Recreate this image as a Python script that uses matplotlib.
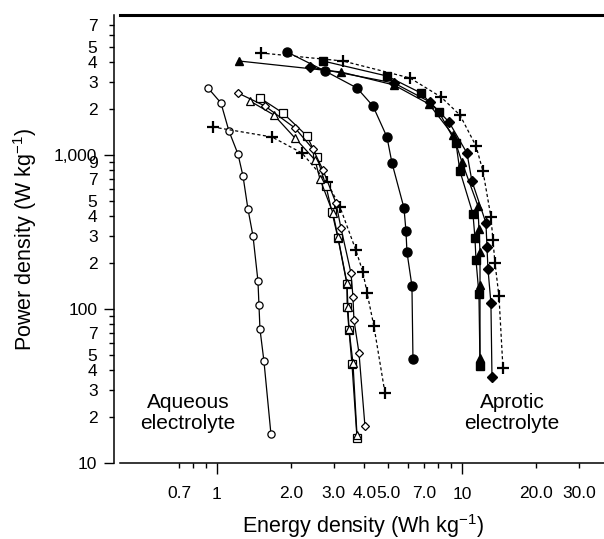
import matplotlib
matplotlib.use('Agg')
import matplotlib.pyplot as plt
from matplotlib.ticker import FixedLocator, FixedFormatter

plt.rcParams['font.family'] = ['Liberation Sans', 'DejaVu Sans']
plt.rcParams['mathtext.default'] = 'regular'

# ---------------- data (Energy density Wh/kg, Power density W/kg) ----------------
aq_circle_x = [0.919, 1.038, 1.119, 1.218, 1.277, 1.338, 1.403, 1.470, 1.484, 1.498, 1.555, 1.661]
aq_circle_y = [2725, 2178, 1432, 1015, 731, 446, 298, 152, 106, 74, 45.9, 15.4]

aq_plus_x = [0.963, 1.677, 2.223, 2.812, 3.177, 3.69, 3.94, 4.10, 4.37, 4.85]
aq_plus_y = [1520, 1309, 1030, 668, 460, 241, 174, 127, 77.6, 28.5]

open_diamond_x = [1.218, 1.570, 2.082, 2.465, 2.708, 3.060, 3.207, 3.524, 3.590, 3.623, 3.799, 4.018]
open_diamond_y = [2527, 2080, 1497, 1094, 799, 488, 336, 171, 120, 84.9, 51.8, 17.4]

open_triangle_x = [1.364, 1.708, 2.082, 2.512, 2.633, 2.975, 3.118, 3.393, 3.425, 3.458, 3.590, 3.728]
open_triangle_y = [2242, 1818, 1289, 929, 698, 420, 293, 147.5, 103, 74.1, 44.6, 15.3]

open_square_x = [1.498, 1.859, 2.330, 2.559, 2.786, 2.946, 3.118, 3.393, 3.40, 3.458, 3.556, 3.728]
open_square_y = [2345, 1874, 1329, 970, 629, 427, 289, 145, 103, 73.1, 44.0, 14.6]

mid_circle_x = [1.931, 2.759, 3.728, 4.333, 4.941, 5.180, 5.799, 5.908, 5.964, 6.25, 6.31]
mid_circle_y = [4667, 3512, 2723, 2080, 1309, 888, 453, 321, 234, 141, 47.3]

ap_plus_x = [1.512, 3.268, 6.135, 8.212, 9.81, 11.41, 12.18, 13.13, 13.38, 13.64, 14.16, 14.70]
ap_plus_y = [4596, 4077, 3162, 2380, 1818, 1144, 787, 396, 281, 199, 121, 41.4]

ap_square_x = [2.708, 4.941, 6.80, 8.056, 9.45, 9.81, 11.09, 11.30, 11.41, 11.73, 11.85]
ap_square_y = [4077, 3258, 2527, 1902, 1196, 787, 414, 289, 208, 125, 42.6]

ap_triangle_x = [1.230, 3.207, 5.278, 7.33, 9.19, 10.0, 11.62, 11.73, 11.85, 11.85, 11.85]
ap_triangle_y = [4077, 3459, 2848, 2143, 1349, 901, 467, 331, 234, 143, 48]

ap_diamond_x = [2.397, 5.278, 7.40, 8.85, 10.48, 10.98, 12.53, 12.65, 12.77, 13.13, 13.26]
ap_diamond_y = [3728, 2935, 2210, 1638, 1030, 678, 362, 253, 182, 109, 36.2]

# tick definitions
x_major = [1, 10]
x_major_labels = ['1', '10']
x_minor = [0.7, 0.8, 0.9, 2, 3, 4, 5, 6, 7, 8, 9, 20, 30]
x_minor_labels = ['0.7', '', '', '2.0', '3.0', '4.0', '5.0', '', '7.0', '', '', '20.0', '30.0']

y_major = [10, 100, 1000]
y_major_labels = ['10', '100', '1,000']
y_minor = [20, 30, 40, 50, 60, 70, 80, 90,
           200, 300, 400, 500, 600, 700, 800, 900,
           2000, 3000, 4000, 5000, 6000, 7000]
y_minor_labels = ['2', '3', '4', '5', '', '7', '', '',
                  '2', '3', '4', '5', '', '7', '', '9',
                  '2', '3', '4', '5', '', '7']

# ---------------- figure ----------------
W, H = 604, 539
fig = plt.figure(figsize=(W / 100, H / 100), dpi=100)
ax = fig.add_axes([120 / W, (H - 463) / H, 484 / W, 448 / H])
ax.set_xscale('log')
ax.set_yscale('log')
ax.set_xlim(0.402, 38)
ax.set_ylim(10, 8110)

lw = 0.9
dash = (0, (2.5, 2.0))
k = 'black'

ax.plot(aq_circle_x, aq_circle_y, color=k, lw=lw, marker='o', ms=5.2, mfc='white', mec=k, mew=0.9, zorder=3)
ax.plot(aq_plus_x, aq_plus_y, color=k, lw=lw, ls=dash, marker='+', ms=8, mew=1.6, zorder=3)
ax.plot(open_square_x, open_square_y, color=k, lw=lw, marker='s', ms=5.8, mfc='white', mec=k, mew=0.9, zorder=3)
ax.plot(open_triangle_x, open_triangle_y, color=k, lw=lw, marker='^', ms=5.8, mfc='white', mec=k, mew=0.9, zorder=3)
ax.plot(open_diamond_x, open_diamond_y, color=k, lw=lw, marker='D', ms=4.3, mfc='white', mec=k, mew=0.9, zorder=3)

ax.plot(mid_circle_x, mid_circle_y, color=k, lw=lw, marker='o', ms=6.5, mfc=k, mec=k, zorder=3)
ax.plot(ap_plus_x, ap_plus_y, color=k, lw=lw, ls=dash, marker='+', ms=8, mew=1.6, zorder=3)
ax.plot(ap_square_x, ap_square_y, color=k, lw=lw, marker='s', ms=6, mfc=k, mec=k, zorder=3)
ax.plot(ap_triangle_x, ap_triangle_y, color=k, lw=lw, marker='^', ms=6, mfc=k, mec=k, zorder=3)
ax.plot(ap_diamond_x, ap_diamond_y, color=k, lw=lw, marker='D', ms=4.6, mfc=k, mec=k, zorder=3)

# spines
ax.spines['right'].set_visible(False)
ax.spines['top'].set_linewidth(2.2)
ax.spines['bottom'].set_linewidth(1.1)
ax.spines['left'].set_linewidth(1.1)
ax.spines['left'].set_position(('outward', 4))

# ticks
ax.xaxis.set_major_locator(FixedLocator(x_major))
ax.xaxis.set_major_formatter(FixedFormatter(x_major_labels))
ax.xaxis.set_minor_locator(FixedLocator(x_minor))
ax.xaxis.set_minor_formatter(FixedFormatter(x_minor_labels))
ax.yaxis.set_major_locator(FixedLocator(y_major))
ax.yaxis.set_major_formatter(FixedFormatter(y_major_labels))
ax.yaxis.set_minor_locator(FixedLocator(y_minor))
ax.yaxis.set_minor_formatter(FixedFormatter(y_minor_labels))

fs = 12.5
ax.tick_params(which='both', direction='out', width=1.0, labelsize=fs, colors=k)
ax.xaxis.set_tick_params(which='major', length=8, pad=9.5)
ax.xaxis.set_tick_params(which='minor', length=3.6, pad=13)
ax.yaxis.set_tick_params(which='major', length=7.2, pad=5)
ax.yaxis.set_tick_params(which='minor', length=3.6, pad=8.6)

# labels
fig.text(25 / W, 1 - 240 / H, 'Power density (W kg$^{-1}$)', rotation=90,
         ha='center', va='center', fontsize=15.5)
fig.text(363 / W, 1 - 526 / H, 'Energy density (Wh kg$^{-1}$)',
         ha='center', va='center', fontsize=15.5)

fig.text(188 / W, 1 - 413 / H, 'Aqueous\nelectrolyte', ha='center', va='center',
         fontsize=15, linespacing=1.1)
fig.text(512 / W, 1 - 413 / H, 'Aprotic\nelectrolyte', ha='center', va='center',
         fontsize=15, linespacing=1.1)

fig.savefig('out.png', dpi=100)
